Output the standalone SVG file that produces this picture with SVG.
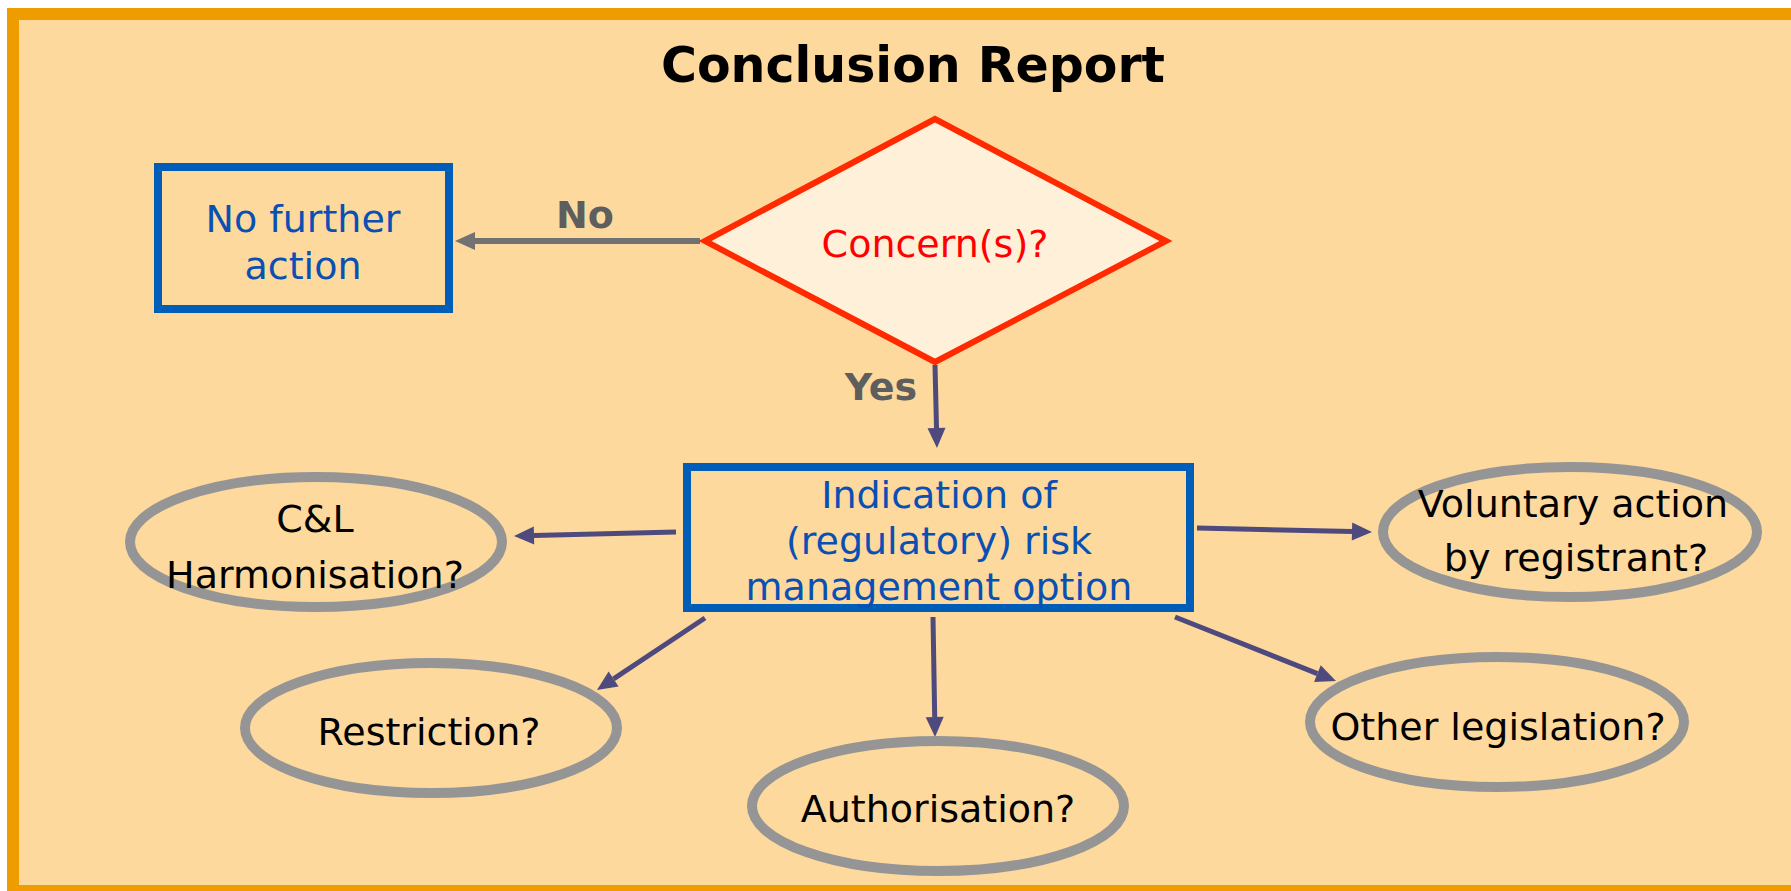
<svg xmlns="http://www.w3.org/2000/svg" width="1791" height="891" viewBox="0 0 1791 891">
<style>
text{font-family:"DejaVu Sans","Verdana","Liberation Sans",sans-serif;font-size:38px;text-anchor:middle}
.blue{fill:#0A50B4}
.blk{fill:#000}
.lbl{font-weight:bold;fill:#5E5E5E}
.box{fill:none;stroke:#005EB8;stroke-width:8}
.ell{fill:none;stroke:#959595;stroke-width:10}
.conn{stroke:#4F4A7E;stroke-width:5;fill:none;marker-end:url(#ap)}
.no{stroke:#727272;stroke-width:6;fill:none;marker-end:url(#ag)}
</style>
<defs>
<marker id="ap" markerUnits="userSpaceOnUse" markerWidth="21" markerHeight="18" refX="0" refY="9" orient="auto" overflow="visible">
<path d="M0,0 L20,9 L0,18 z" fill="#4F4A7E"/>
</marker>
<marker id="ag" markerUnits="userSpaceOnUse" markerWidth="21" markerHeight="18" refX="0" refY="9" orient="auto" overflow="visible">
<path d="M0,0 L20,9 L0,18 z" fill="#727272"/>
</marker>
</defs>
<rect x="0" y="0" width="1791" height="891" fill="#fff"/>
<rect id="frame" x="13" y="14" width="1800" height="877" fill="#FDD99D" stroke="#EF9C00" stroke-width="12"/>
<text id="title" x="913" y="82" style="font-size:49px;font-weight:bold" class="blk">Conclusion Report</text>
<g id="connectors">
<line class="no" x1="700" y1="241" x2="475" y2="241"/>
<line class="conn" x1="935" y1="365" x2="936.5" y2="428"/>
<line class="conn" x1="676" y1="532" x2="534" y2="535.5"/>
<line class="conn" x1="1197" y1="528" x2="1352" y2="531.5"/>
<line class="conn" x1="705" y1="618" x2="613.6" y2="678.9"/>
<line class="conn" x1="933" y1="617" x2="934.7" y2="717"/>
<line class="conn" x1="1175" y1="617" x2="1317.4" y2="673.6"/>
<text class="lbl" x="585" y="228">No</text>
<text class="lbl" x="881" y="400">Yes</text>
</g>
<g id="no-action">
<rect class="box" x="158" y="167" width="291" height="142"/>
<text class="blue" x="303" y="232">No further</text>
<text class="blue" x="303" y="279">action</text>
</g>
<g id="concern">
<polygon points="935,119 1166,241 935,362 705,241" fill="#FFF0DA" stroke="#FF2A00" stroke-width="6"/>
<text x="935" y="257" fill="#FF0000">Concern(s)?</text>
</g>
<g id="indication">
<rect class="box" x="687" y="467" width="503" height="141"/>
<text class="blue" x="939" y="508">Indication of</text>
<text class="blue" x="939" y="554">(regulatory) risk</text>
<text class="blue" x="939" y="600">management option</text>
</g>
<g id="cl">
<ellipse class="ell" cx="316" cy="542" rx="186" ry="65"/>
<text class="blk" x="315" y="532">C&amp;L</text>
<text class="blk" x="315" y="588">Harmonisation?</text>
</g>
<g id="restriction">
<ellipse class="ell" cx="431" cy="728" rx="186" ry="65"/>
<text class="blk" x="429" y="745">Restriction?</text>
</g>
<g id="authorisation">
<ellipse class="ell" cx="938" cy="806" rx="186" ry="65"/>
<text class="blk" x="938" y="822">Authorisation?</text>
</g>
<g id="voluntary">
<ellipse class="ell" cx="1570" cy="532" rx="187" ry="65"/>
<text class="blk" x="1573" y="517">Voluntary action</text>
<text class="blk" x="1576" y="571">by registrant?</text>
</g>
<g id="other">
<ellipse class="ell" cx="1497" cy="722" rx="187" ry="65"/>
<text class="blk" x="1498" y="740">Other legislation?</text>
</g>
</svg>
